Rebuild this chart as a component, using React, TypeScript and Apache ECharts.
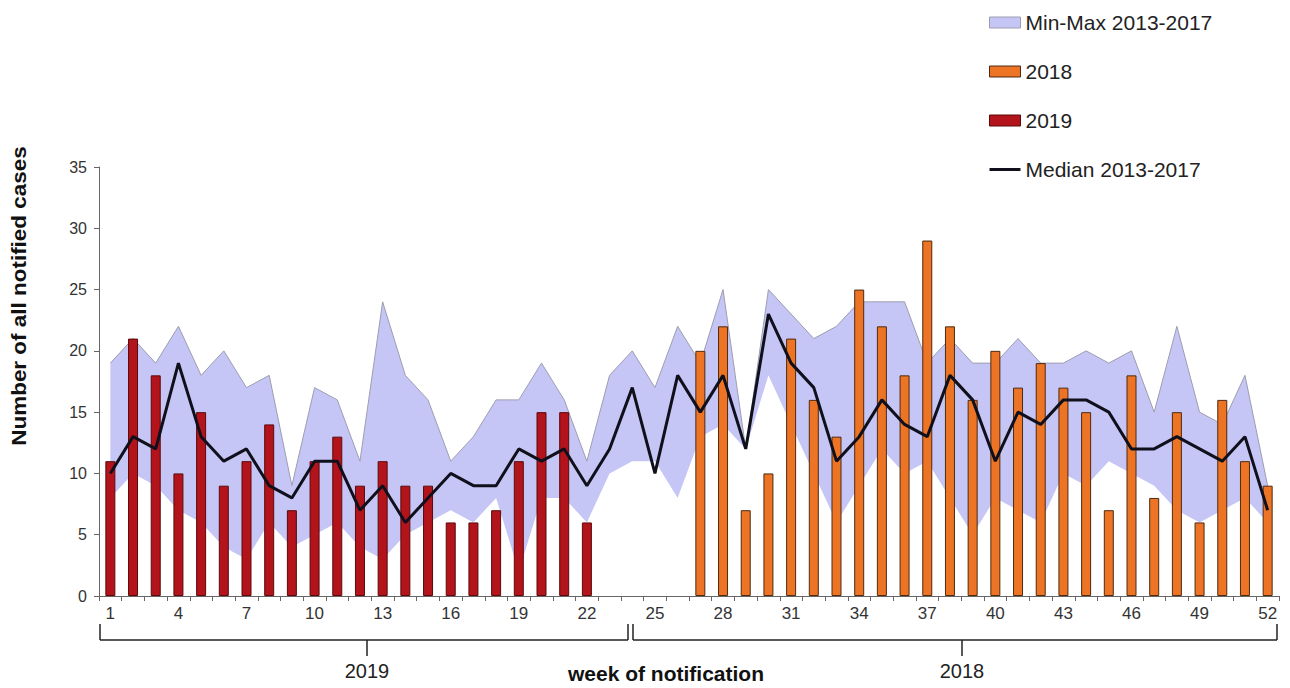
import React, { useEffect, useRef } from "react";
import * as echarts from "echarts";

// Week categories 1..52
const weeks: string[] = Array.from({ length: 52 }, (_, i) => String(i + 1));

// 2019 notified cases (weeks 1-22)
const cases2019: (number | null)[] = [
  11, 21, 18, 10, 15, 9, 11, 14, 7, 11, 13, 9, 11, 9, 9, 6, 6, 7, 11, 15, 15, 6,
  null, null, null, null, null, null, null, null, null, null, null, null, null, null,
  null, null, null, null, null, null, null, null, null, null, null, null, null, null,
  null, null,
];

// 2018 notified cases (weeks 27-52)
const cases2018: (number | null)[] = [
  null, null, null, null, null, null, null, null, null, null, null, null, null,
  null, null, null, null, null, null, null, null, null, null, null, null, null,
  20, 22, 7, 10, 21, 16, 13, 25, 22, 18, 29, 22, 16, 20, 17, 19, 17, 15, 7, 18,
  8, 15, 6, 16, 11, 9,
];

// Median 2013-2017
const median2013_2017: number[] = [
  10, 13, 12, 19, 13, 11, 12, 9, 8, 11, 11, 7, 9, 6, 8, 10, 9, 9, 12, 11, 12, 9,
  12, 17, 10, 18, 15, 18, 12, 23, 19, 17, 11, 13, 16, 14, 13, 18, 16, 11, 15, 14,
  16, 16, 15, 12, 12, 13, 12, 11, 13, 7,
];

// Min 2013-2017
const min2013_2017: number[] = [
  8, 10, 9, 7, 6, 4, 3, 6, 4, 5, 6, 4, 3, 5, 6, 7, 6, 8, 2, 8, 8, 6,
  10, 11, 11, 8, 13, 14, 12, 18, 14, 10, 6, 9, 12, 10, 11, 8, 5, 8, 7, 6,
  10, 9, 11, 10, 9, 7, 6, 7, 8, 6,
];

// Max 2013-2017
const max2013_2017: number[] = [
  19, 21, 19, 22, 18, 20, 17, 18, 9, 17, 16, 11, 24, 18, 16, 11, 13, 16, 16, 19, 16, 11,
  18, 20, 17, 22, 19, 25, 12, 25, 23, 21, 22, 24, 24, 24, 19, 21, 19, 19, 21, 19,
  19, 20, 19, 20, 15, 22, 15, 14, 18, 9,
];

const yTicks = { min: 0, max: 35, interval: 5 };

const bandSpan = max2013_2017.map((v, i) => v - min2013_2017[i]);

const FONT = "'Liberation Sans', Arial, Helvetica, sans-serif";
const BAND = "#c6c6f6";
const BAND_EDGE = "#9d9db0";
const ORANGE = "#ec7424";
const ORANGE_EDGE = "#4d2a10";
const RED = "#b3131b";
const RED_EDGE = "#5a0a0a";
const MEDIAN = "#10101c";

export default function App() {
  const ref = useRef<HTMLDivElement>(null);

  useEffect(() => {
    const chart = echarts.init(ref.current!, null, { renderer: "svg" });
    chart.setOption({
      animation: false,
      backgroundColor: "#ffffff",
      grid: { left: 99, right: 11, top: 167, bottom: 92 },
      legend: {
        orient: "vertical",
        left: 984,
        top: 7,
        itemWidth: 31,
        itemHeight: 11,
        itemGap: 28,
        selectedMode: false,
        textStyle: { fontFamily: FONT, fontSize: 21, color: "#222" },
        data: [
          {
            name: "Min-Max 2013-2017",
            icon: "rect",
            itemStyle: { color: BAND, borderColor: BAND_EDGE, borderWidth: 1 },
          },
          {
            name: "2018",
            icon: "rect",
            itemStyle: { color: ORANGE, borderColor: ORANGE_EDGE, borderWidth: 1 },
          },
          {
            name: "2019",
            icon: "rect",
            itemStyle: { color: RED, borderColor: RED_EDGE, borderWidth: 1 },
          },
          {
            name: "Median 2013-2017",
            icon: "path://M0,0 L31,0 L31,3 L0,3 Z",
            itemStyle: { color: MEDIAN, borderWidth: 0 },
          },
        ],
      },
      xAxis: {
        type: "category",
        data: weeks,
        boundaryGap: true,
        axisLine: { show: true, lineStyle: { color: "#666", width: 1 } },
        axisTick: {
          show: true,
          interval: 0,
          length: 5,
          lineStyle: { color: "#666" },
        },
        axisLabel: {
          interval: 2,
          fontFamily: FONT,
          fontSize: 17,
          color: "#333",
          margin: 9,
        },
      },
      yAxis: {
        type: "value",
        min: yTicks.min,
        max: yTicks.max,
        interval: yTicks.interval,
        splitLine: { show: false },
        axisLine: { show: true, lineStyle: { color: "#666", width: 1 } },
        axisTick: { show: true, length: 5, lineStyle: { color: "#666" } },
        axisLabel: { fontFamily: FONT, fontSize: 16, color: "#333", margin: 12 },
      },
      series: [
        {
          name: "min-base",
          type: "line",
          data: min2013_2017,
          stack: "band",
          symbol: "none",
          silent: true,
          lineStyle: { opacity: 0 },
          z: 1,
        },
        {
          name: "Min-Max 2013-2017",
          type: "line",
          data: bandSpan,
          stack: "band",
          symbol: "none",
          silent: true,
          color: BAND,
          lineStyle: { color: BAND_EDGE, width: 1 },
          areaStyle: { color: BAND, opacity: 1 },
          z: 1,
        },
        {
          name: "2018",
          type: "bar",
          data: cases2018,
          barWidth: 10,
          barGap: "-100%",
          itemStyle: { color: ORANGE, borderColor: ORANGE_EDGE, borderWidth: 1 },
          z: 2,
        },
        {
          name: "2019",
          type: "bar",
          data: cases2019,
          barWidth: 10,
          barGap: "-100%",
          itemStyle: { color: RED, borderColor: RED_EDGE, borderWidth: 1 },
          z: 2,
        },
        {
          name: "Median 2013-2017",
          type: "line",
          data: median2013_2017,
          symbol: "none",
          showSymbol: false,
          color: MEDIAN,
          lineStyle: { color: MEDIAN, width: 3 },
          z: 3,
        },
      ],
      graphic: [
        {
          type: "text",
          x: 19,
          y: 296,
          rotation: Math.PI / 2,
          scaleX: 1.07,
          style: {
            text: "Number of all notified cases",
            font: `bold 21px ${FONT}`,
            textAlign: "center",
            textVerticalAlign: "middle",
            fill: "#111",
          },
        },
        // 2019 bracket
        { type: "line", shape: { x1: 100, y1: 640, x2: 628, y2: 640 }, style: { stroke: "#222", lineWidth: 1.5 } },
        { type: "line", shape: { x1: 100, y1: 624, x2: 100, y2: 640 }, style: { stroke: "#222", lineWidth: 1.5 } },
        { type: "line", shape: { x1: 628, y1: 624, x2: 628, y2: 640 }, style: { stroke: "#222", lineWidth: 1.5 } },
        { type: "line", shape: { x1: 367, y1: 640, x2: 367, y2: 656 }, style: { stroke: "#222", lineWidth: 1.5 } },
        // 2018 bracket
        { type: "line", shape: { x1: 633, y1: 640, x2: 1277, y2: 640 }, style: { stroke: "#222", lineWidth: 1.5 } },
        { type: "line", shape: { x1: 633, y1: 624, x2: 633, y2: 640 }, style: { stroke: "#222", lineWidth: 1.5 } },
        { type: "line", shape: { x1: 1277, y1: 624, x2: 1277, y2: 640 }, style: { stroke: "#222", lineWidth: 1.5 } },
        { type: "line", shape: { x1: 962, y1: 640, x2: 962, y2: 656 }, style: { stroke: "#222", lineWidth: 1.5 } },
        {
          type: "text",
          x: 367,
          y: 671,
          style: {
            text: "2019",
            font: `20px ${FONT}`,
            textAlign: "center",
            textVerticalAlign: "middle",
            fill: "#222",
          },
        },
        {
          type: "text",
          x: 962,
          y: 671,
          style: {
            text: "2018",
            font: `20px ${FONT}`,
            textAlign: "center",
            textVerticalAlign: "middle",
            fill: "#222",
          },
        },
        {
          type: "text",
          x: 666,
          y: 673,
          style: {
            text: "week of notification",
            font: `bold 21px ${FONT}`,
            textAlign: "center",
            textVerticalAlign: "middle",
            fill: "#111",
          },
        },
      ],
    });
    return () => chart.dispose();
  }, []);

  return (
    <div
      ref={ref}
      style={{ position: "fixed", left: 0, top: 0, width: 1290, height: 688, background: "#fff" }}
    />
  );
}
